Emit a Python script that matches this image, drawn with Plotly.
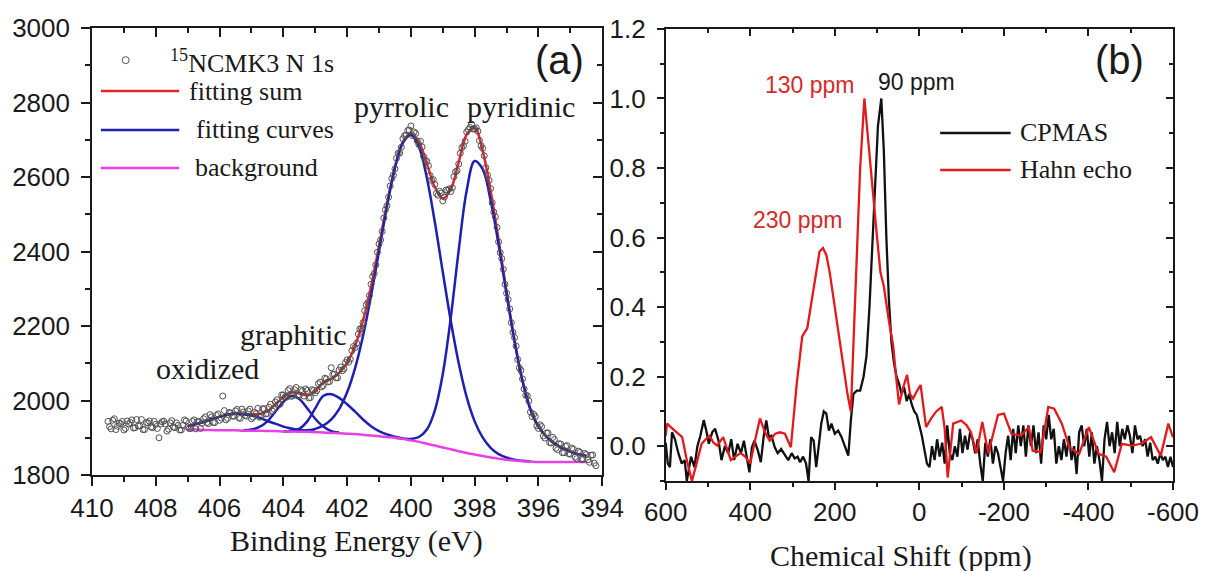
import plotly.graph_objects as go

# ---------------- Panel (a): XPS N 1s ----------------
E_data = [409.5, 409.4, 409.3, 409.2, 409.1, 409.0, 408.9, 408.8, 408.7, 408.6,
          408.5, 408.4, 408.3, 408.2, 408.1, 408.0, 407.9, 407.8, 407.7, 407.6,
          407.5, 407.4, 407.3, 407.2, 407.1, 407.0, 406.9, 406.8, 406.7, 406.6,
          406.5, 406.4, 406.3, 406.2, 406.1, 406.0, 405.9, 405.8, 405.7, 405.6,
          405.5, 405.4, 405.3, 405.2, 405.1, 405.0, 404.9, 404.8, 404.7, 404.6,
          404.5, 404.4, 404.3, 404.2, 404.1, 404.0, 403.9, 403.8, 403.7, 403.6,
          403.5, 403.4, 403.3, 403.2, 403.1, 403.0, 402.9, 402.8, 402.7, 402.6,
          402.5, 402.4, 402.3, 402.2, 402.1, 402.0, 401.9, 401.8, 401.7, 401.6,
          401.5, 401.4, 401.3, 401.2, 401.1, 401.0, 400.9, 400.8, 400.7, 400.6,
          400.5, 400.4, 400.3, 400.2, 400.1, 400.0, 399.9, 399.8, 399.7, 399.6,
          399.5, 399.4, 399.3, 399.2, 399.1, 399.0, 398.9, 398.8, 398.7, 398.6,
          398.5, 398.4, 398.3, 398.2, 398.1, 398.0, 397.9, 397.8, 397.7, 397.6,
          397.5, 397.4, 397.3, 397.2, 397.1, 397.0, 396.9, 396.8, 396.7, 396.6,
          396.5, 396.4, 396.3, 396.2, 396.1, 396.0, 395.9, 395.8, 395.7, 395.6,
          395.5, 395.4, 395.3, 395.2, 395.1, 395.0, 394.9, 394.8, 394.7, 394.6,
          394.5, 394.4, 394.3, 394.2]
I_data = [1944, 1924, 1951, 1931, 1938, 1921, 1945, 1941, 1926, 1949,
          1932, 1922, 1941, 1945, 1927, 1936, 1900, 1943, 1937, 1923,
          1946, 1927, 1933, 1921, 1948, 1929, 1925, 1948, 1943, 1925,
          1951, 1941, 1962, 1941, 1960, 1947, 2012, 1948, 1968, 1958,
          1972, 1954, 1977, 1960, 1972, 1951, 1968, 1979, 1957, 1978,
          1965, 1990, 1977, 2002, 1990, 2015, 2009, 2032, 2013, 2035,
          2014, 2026, 2031, 2007, 2029, 2021, 2045, 2037, 2060, 2050,
          2088, 2071, 2061, 2090, 2085, 2109, 2111, 2145, 2154, 2192,
          2209, 2257, 2282, 2333, 2364, 2420, 2454, 2512, 2546, 2596,
          2622, 2664, 2680, 2711, 2725, 2737, 2721, 2697, 2696, 2655,
          2642, 2604, 2593, 2556, 2562, 2536, 2565, 2568, 2571, 2614,
          2635, 2679, 2696, 2727, 2742, 2729, 2723, 2684, 2657, 2605,
          2569, 2506, 2465, 2397, 2352, 2288, 2246, 2183, 2146, 2088,
          2058, 2014, 1999, 1957, 1957, 1925, 1930, 1899, 1913, 1886,
          1895, 1868, 1883, 1860, 1879, 1856, 1869, 1844, 1861, 1842,
          1855, 1834, 1854, 1825]
E_data2 = [409.45, 409.35, 409.25, 409.15, 409.05, 408.95, 408.85, 408.75, 408.65, 408.55,
           408.45, 408.35, 408.25, 408.15, 408.05, 407.95, 407.85, 407.75, 407.65, 407.55,
           407.45, 407.35, 407.25, 407.15, 407.05, 406.95, 406.85, 406.75, 406.65, 406.55,
           406.45, 406.35, 406.25, 406.15, 406.05, 405.95, 405.85, 405.75, 405.65, 405.55,
           405.45, 405.35, 405.25, 405.15, 405.05, 404.95, 404.85, 404.75, 404.65, 404.55,
           404.45, 404.35, 404.25, 404.15, 404.05, 403.95, 403.85, 403.75, 403.65, 403.55,
           403.45, 403.35, 403.25, 403.15, 403.05, 402.95, 402.85, 402.75, 402.65, 402.55,
           402.45, 402.35, 402.25, 402.15, 402.05, 401.95, 401.85, 401.75, 401.65, 401.55,
           401.45, 401.35, 401.25, 401.15, 401.05, 400.95, 400.85, 400.75, 400.65, 400.55,
           400.45, 400.35, 400.25, 400.15, 400.05, 399.95, 399.85, 399.75, 399.65, 399.55,
           399.45, 399.35, 399.25, 399.15, 399.05, 398.95, 398.85, 398.75, 398.65, 398.55,
           398.45, 398.35, 398.25, 398.15, 398.05, 397.95, 397.85, 397.75, 397.65, 397.55,
           397.45, 397.35, 397.25, 397.15, 397.05, 396.95, 396.85, 396.75, 396.65, 396.55,
           396.45, 396.35, 396.25, 396.15, 396.05, 395.95, 395.85, 395.75, 395.65, 395.55,
           395.45, 395.35, 395.25, 395.15, 395.05, 394.95, 394.85, 394.75, 394.65, 394.55,
           394.45, 394.35, 394.25]
I_data2 = [1930, 1947, 1922, 1939, 1944, 1925, 1937, 1948, 1927, 1932,
           1949, 1922, 1940, 1929, 1944, 1925, 1937, 1945, 1918, 1940,
           1929, 1940, 1921, 1933, 1945, 1925, 1944, 1924, 1944, 1939,
           1956, 1938, 1956, 1941, 1964, 1953, 1973, 1952, 1966, 1958,
           1976, 1952, 1969, 1958, 1977, 1955, 1965, 1955, 1978, 1964,
           1982, 1972, 1996, 1990, 2015, 2009, 2027, 2011, 2029, 2014,
           2029, 2012, 2027, 2008, 2027, 2027, 2049, 2040, 2058, 2051,
           2070, 2061, 2082, 2080, 2102, 2103, 2134, 2142, 2178, 2193,
           2241, 2263, 2312, 2341, 2398, 2431, 2490, 2523, 2576, 2605,
           2650, 2664, 2703, 2712, 2726, 2711, 2717, 2687, 2681, 2645,
           2630, 2591, 2580, 2551, 2557, 2546, 2564, 2561, 2601, 2617,
           2664, 2684, 2721, 2733, 2729, 2732, 2698, 2677, 2625, 2591,
           2531, 2493, 2426, 2381, 2312, 2271, 2209, 2169, 2110, 2081,
           2031, 2013, 1969, 1963, 1932, 1935, 1905, 1913, 1887, 1901,
           1872, 1884, 1860, 1877, 1857, 1872, 1848, 1864, 1842, 1858,
           1841, 1853, 1832]

E_fit = [407.0, 406.75, 406.5, 406.25, 406.0, 405.75, 405.5, 405.25, 405.0, 404.75,
         404.5, 404.25, 404.0, 403.75, 403.5, 403.25, 403.0, 402.75, 402.5, 402.25,
         402.0, 401.75, 401.5, 401.25, 401.0, 400.75, 400.5, 400.25, 400.0, 399.75,
         399.5, 399.25, 399.0, 398.75, 398.5, 398.25, 398.0, 397.75, 397.5, 397.25,
         397.0, 396.75, 396.5, 396.25, 396.0, 395.75, 395.5, 395.25, 395.0, 394.75,
         394.5]
fit_sum = [1931, 1937, 1942, 1950, 1956, 1962, 1965, 1964, 1963, 1964,
           1971, 1990, 2009, 2023, 2019, 2014, 2025, 2048, 2058, 2074,
           2101, 2147, 2215, 2306, 2415, 2528, 2627, 2694, 2717, 2694,
           2636, 2573, 2542, 2567, 2640, 2714, 2732, 2671, 2563, 2431,
           2292, 2161, 2053, 1976, 1930, 1903, 1885, 1872, 1863, 1856,
           1851]
background = [1922, 1922, 1921, 1921, 1920, 1920, 1920, 1919, 1919, 1919,
              1918, 1918, 1917, 1917, 1916, 1916, 1915, 1914, 1913, 1912,
              1911, 1910, 1908, 1906, 1904, 1902, 1900, 1897, 1893, 1889,
              1884, 1879, 1874, 1869, 1864, 1859, 1855, 1851, 1847, 1844,
              1841, 1839, 1837, 1836, 1835, 1835, 1835, 1835, 1835, 1835,
              1835]

E_oxidized = [407.0, 406.75, 406.5, 406.25, 406.0, 405.75, 405.5, 405.25, 405.0,
              404.75, 404.5, 404.25, 404.0, 403.75, 403.5, 403.25, 403.0]
I_oxidized = [1931, 1937, 1942, 1950, 1956, 1962, 1965, 1963, 1960,
              1954, 1945, 1938, 1930, 1925, 1921, 1919, 1916]
E_graph1 = [405.25, 405.0, 404.75, 404.5, 404.25, 404.0, 403.75, 403.5, 403.25,
            403.0, 402.75, 402.5, 402.25]
I_graph1 = [1920, 1922, 1929, 1944, 1970, 1996, 2012, 2004, 1979,
            1951, 1930, 1918, 1914]
E_graph2 = [404.0, 403.75, 403.5, 403.25, 403.0, 402.75, 402.5, 402.25, 402.0,
            401.75, 401.5, 401.25, 401.0, 400.75, 400.5, 400.25]
I_graph2 = [1917, 1919, 1924, 1944, 1979, 2012, 2017, 2007, 1990,
            1970, 1949, 1931, 1918, 1909, 1903, 1898]
E_pyrrolic = [404.0, 403.75, 403.5, 403.25, 403.0, 402.75, 402.5, 402.25, 402.0,
              401.75, 401.5, 401.25, 401.0, 400.75, 400.5, 400.25, 400.0, 399.75,
              399.5, 399.25, 399.0, 398.75, 398.5, 398.25, 398.0, 397.75, 397.5,
              397.25, 397.0, 396.75, 396.5, 396.25]
I_pyrrolic = [1917, 1918, 1918, 1920, 1924, 1933, 1949, 1977, 2022,
              2087, 2174, 2281, 2401, 2521, 2624, 2692, 2713, 2681,
              2598, 2479, 2345, 2214, 2100, 2009, 1944, 1901, 1873,
              1856, 1847, 1841, 1838, 1836]
E_pyridinic = [400.5, 400.25, 400.0, 399.75, 399.5, 399.25, 399.0, 398.75, 398.5,
               398.25, 398.0, 397.75, 397.5, 397.25, 397.0, 396.75, 396.5, 396.25,
               396.0, 395.75, 395.5, 395.25, 395.0, 394.75, 394.5]
I_pyridinic = [1900, 1898, 1897, 1902, 1922, 1973, 2071, 2222, 2404,
               2564, 2643, 2621, 2537, 2419, 2286, 2159, 2052, 1976,
               1930, 1903, 1885, 1872, 1863, 1856, 1851]

# ---------------- Panel (b): 15N NMR ----------------
ppm_cp = [600, 595, 590, 585, 578, 570, 562, 555, 550, 545, 540, 532, 525, 518, 510,
          504, 498, 490, 483, 475, 468, 460, 452, 445, 438, 430, 422, 415, 408, 402,
          396, 390, 382, 375, 368, 362, 356, 350, 342, 335, 327, 318, 310, 302, 295,
          288, 282, 275, 268, 262, 256, 250, 244, 238, 232, 226, 220, 214, 208, 200,
          192, 184, 176, 168, 162, 156, 148, 140, 132, 125, 118, 112, 105, 98, 90,
          84, 78, 72, 66, 60, 54, 48, 42, 36, 30, 24, 18, 12, 6, 0,
          -6, -12, -18, -24, -30, -36, -42, -48, -54, -60, -66, -72, -78, -84, -90,
          -96, -102, -108, -114, -120, -126, -132, -138, -144, -150, -156, -162, -168, -174, -180,
          -186, -192, -198, -204, -210, -216, -222, -228, -234, -240, -246, -252, -258, -264, -270,
          -276, -282, -288, -294, -300, -306, -312, -318, -324, -330, -336, -342, -348, -354, -360,
          -366, -372, -378, -384, -390, -396, -402, -408, -414, -420, -426, -432, -438, -444, -450,
          -456, -462, -468, -474, -480, -486, -492, -498, -504, -510, -516, -522, -528, -534, -540,
          -546, -552, -558, -564, -570, -576, -582, -588, -594, -600]
int_cp = [0.01, -0.05, -0.06, 0.04, 0.02, -0.02, -0.05, -0.04, -0.10, -0.06, -0.03, -0.06, 0.0, 0.03, 0.075,
          0.045, 0.007, 0.04, 0.05, 0.016, -0.04, 0.0, -0.02, 0.02, -0.04, 0.007, -0.02, 0.016, -0.03, -0.075,
          -0.003, 0.016, -0.012, -0.046, 0.03, 0.074, 0.026, 0.03, -0.003, -0.02, -0.008, -0.027, -0.04, -0.02, -0.035,
          -0.03, -0.046, -0.03, -0.05, -0.10, 0.026, 0.016, -0.06, 0.0, 0.065, 0.10, 0.094, 0.045, 0.065, 0.036,
          0.045, 0.026, 0.0, -0.027, 0.074, 0.15, 0.16, 0.16, 0.20, 0.26, 0.40, 0.55, 0.75, 0.92, 1.0,
          0.85, 0.60, 0.42, 0.30, 0.24, 0.20, 0.18, 0.15, 0.17, 0.13, 0.15, 0.12, 0.10, 0.09, 0.06,
          0.03, -0.01, -0.05, -0.06, 0.0, -0.04, 0.02, -0.03, 0.01, -0.05, 0.06, -0.02, -0.04, 0.0, -0.03,
          0.05, -0.02, 0.03, -0.01, 0.04, 0.02, -0.02, 0.02, -0.05, -0.10, 0.01, -0.03, 0.02, -0.05, 0.0,
          -0.02, -0.06, -0.10, -0.02, 0.03, -0.04, 0.05, -0.02, 0.06, 0.0, 0.06, -0.03, 0.06, 0.0, 0.06,
          -0.02, 0.04, -0.05, 0.06, 0.02, 0.09, 0.02, 0.05, -0.05, 0.0, -0.04, 0.02, -0.03, 0.03, -0.04,
          0.0, -0.08, 0.04, 0.06, 0.0, 0.05, -0.03, 0.04, -0.05, 0.0, -0.04, -0.10, 0.02, 0.07, 0.0,
          0.04, -0.02, 0.07, 0.0, 0.05, 0.02, 0.06, 0.03, -0.02, 0.06, 0.02, 0.03, 0.0, 0.02, -0.03,
          0.01, -0.04, -0.03, -0.05, -0.02, -0.04, -0.03, -0.06, -0.03, -0.06]

ppm_he = [600, 597, 588, 579, 570, 561, 550, 538, 527, 515, 505, 496, 487, 478, 464,
          455, 446, 435, 423, 412, 400, 388, 377, 365, 354, 341, 330, 318, 304, 290,
          277, 265, 255, 245, 236, 228, 220, 212, 200, 190, 180, 170, 162, 150, 140,
          130, 120, 110, 100, 92, 84, 72, 62, 55, 48, 38, 29, 22, 15, 5,
          -3, -16, -28, -40, -53, -60, -67, -80, -99, -112, -122, -135, -149, -163, -186,
          -200, -218, -241, -259, -268, -287, -305, -319, -337, -355, -378, -401, -424, -442, -461,
          -479, -502, -525, -548, -571, -589, -600]
int_he = [0.03, 0.065, 0.055, 0.045, 0.035, 0.026, -0.04, -0.10, -0.05, 0.007, 0.02, 0.03, 0.01, 0.002, 0.026,
          -0.01, -0.04, -0.03, -0.02, -0.03, -0.05, 0.02, 0.08, 0.04, 0.016, 0.036, 0.04, 0.036, -0.003, 0.18,
          0.316, 0.34, 0.42, 0.50, 0.56, 0.57, 0.55, 0.50, 0.40, 0.31, 0.22, 0.15, 0.10, 0.50, 0.80,
          1.0, 0.86, 0.74, 0.60, 0.50, 0.46, 0.36, 0.29, 0.20, 0.12, 0.17, 0.205, 0.15, 0.137, 0.16,
          0.176, 0.055, 0.08, 0.10, 0.113, 0.05, -0.09, 0.065, 0.074, 0.06, 0.04, -0.02, 0.07, -0.02, 0.09,
          0.094, 0.036, 0.03, 0.055, -0.013, -0.017, 0.113, 0.108, 0.065, -0.003, -0.022, 0.055, -0.022, -0.03, -0.075,
          0.007, 0.002, 0.007, 0.026, -0.027, 0.065, 0.026]

ppm_tickvals = [600, 400, 200, 0, -200, -400, -600]
ppm_ticktext = ["600", "400", "200", "0", "-200", "-400", "-600"]

# ---------------- styles ----------------
SANS = "Liberation Sans, Arial, sans-serif"
SERIF = "Liberation Serif, Times New Roman, serif"
INK = "#1a1a1a"
RED = "#e3262b"
BLUE = "#1f1fb0"
MAGENTA = "#e640e6"
RED_B = "#e31a1c"
MARK = "#505050"

fig = go.Figure()

# panel (a) traces
fig.add_trace(go.Scatter(x=E_fit, y=fit_sum, mode="lines", line=dict(color=RED, width=2.5, shape="spline"),
                         xaxis="x", yaxis="y", showlegend=False))
for ex, iy in [(E_oxidized, I_oxidized), (E_graph1, I_graph1), (E_graph2, I_graph2),
               (E_pyrrolic, I_pyrrolic), (E_pyridinic, I_pyridinic)]:
    fig.add_trace(go.Scatter(x=ex, y=iy, mode="lines", line=dict(color=BLUE, width=2.5, shape="spline"),
                             xaxis="x", yaxis="y", showlegend=False))
fig.add_trace(go.Scatter(x=E_fit, y=background, mode="lines", line=dict(color=MAGENTA, width=2.5, shape="spline"),
                         xaxis="x", yaxis="y", showlegend=False))
fig.add_trace(go.Scatter(x=E_data + E_data2, y=I_data + I_data2, mode="markers",
                         marker=dict(symbol="circle-open", size=6, color=MARK, line=dict(width=1)),
                         xaxis="x", yaxis="y", showlegend=False))

# panel (b) traces
fig.add_trace(go.Scatter(x=ppm_cp, y=int_cp, mode="lines", line=dict(color="#111111", width=2.3),
                         xaxis="x2", yaxis="y2", showlegend=False))
fig.add_trace(go.Scatter(x=ppm_he, y=int_he, mode="lines", line=dict(color=RED_B, width=2.3),
                         xaxis="x2", yaxis="y2", showlegend=False))

# empty traces that carry the mirrored (inside-tick) top/right axes
fig.add_trace(go.Scatter(x=[], y=[], xaxis="x3", yaxis="y3", showlegend=False, hoverinfo="skip"))
fig.add_trace(go.Scatter(x=[], y=[], xaxis="x4", yaxis="y4", showlegend=False, hoverinfo="skip"))

common = dict(showline=True, linecolor=INK, linewidth=1.6, showgrid=False, zeroline=False,
              tickcolor=INK, tickwidth=1.5, tickfont=dict(family=SANS, size=26, color=INK))

xa_range = [410, 394]
ya_range = [1800, 3000]
xb_range = [600, -600]
yb_range = [-0.1, 1.2]

ya_dom = [0.0132, 1.0]
yb_dom = [0.0, 0.998]

fig.update_layout(
    width=1211, height=571,
    margin=dict(l=88, r=32, t=28, b=90),
    paper_bgcolor="white", plot_bgcolor="white",
    showlegend=False,
    xaxis=dict(domain=[0, 0.472], range=xa_range, anchor="y", tickmode="linear", tick0=394, dtick=2,
               ticks="outside", ticklen=9, ticklabelstandoff=0,
               minor=dict(dtick=1, tick0=394, ticks="outside", ticklen=5, tickwidth=1.5, tickcolor=INK),
               **common),
    yaxis=dict(domain=ya_dom, range=ya_range, anchor="x", tickmode="linear", tick0=1800, dtick=200,
               ticks="outside", ticklen=9, ticklabelstandoff=6,
               minor=dict(dtick=100, tick0=1800, ticks="outside", ticklen=5, tickwidth=1.5, tickcolor=INK),
               **common),
    xaxis3=dict(overlaying="x", side="top", anchor="y", range=xa_range, tickmode="linear", tick0=394, dtick=2,
                ticks="inside", ticklen=9, showticklabels=False,
                minor=dict(dtick=1, tick0=394, ticks="inside", ticklen=5, tickwidth=1.5, tickcolor=INK),
                **common),
    yaxis3=dict(overlaying="y", side="right", anchor="x", range=ya_range, tickmode="linear", tick0=1800, dtick=200,
                ticks="inside", ticklen=9, showticklabels=False,
                minor=dict(dtick=100, tick0=1800, ticks="inside", ticklen=5, tickwidth=1.5, tickcolor=INK),
                **common),
    xaxis2=dict(domain=[0.5307, 1.0], range=xb_range, anchor="y2", tickmode="array",
                tickvals=ppm_tickvals, ticktext=ppm_ticktext,
                ticks="outside", ticklen=7, ticklabelstandoff=0,
                minor=dict(dtick=100, tick0=0, ticks="outside", ticklen=4, tickwidth=1.5, tickcolor=INK),
                **common),
    yaxis2=dict(domain=yb_dom, range=yb_range, anchor="x2", tickmode="linear", tick0=0, dtick=0.2,
                tickformat=".1f", ticks="outside", ticklen=7, ticklabelstandoff=6,
                minor=dict(dtick=0.1, tick0=0, ticks="outside", ticklen=4, tickwidth=1.5, tickcolor=INK),
                **common),
    xaxis4=dict(overlaying="x2", side="top", anchor="y2", range=xb_range, tickmode="linear", tick0=0, dtick=200,
                ticks="inside", ticklen=7, showticklabels=False,
                minor=dict(dtick=100, tick0=0, ticks="inside", ticklen=4, tickwidth=1.5, tickcolor=INK),
                **common),
    yaxis4=dict(overlaying="y2", side="right", anchor="x2", range=yb_range, tickmode="linear", tick0=0, dtick=0.2,
                ticks="inside", ticklen=7, showticklabels=False,
                minor=dict(dtick=0.1, tick0=0, ticks="inside", ticklen=4, tickwidth=1.5, tickcolor=INK),
                **common),
)

ann = []
def text(x, y, s, xref, yref, size, family=SERIF, color=INK, xanchor="center", yanchor="middle"):
    ann.append(dict(x=x, y=y, text=s, xref=xref, yref=yref, showarrow=False,
                    font=dict(family=family, size=size, color=color),
                    xanchor=xanchor, yanchor=yanchor))

# axis titles
text(0.2447, -0.132, "Binding Energy (eV)", "paper", "paper", 30)
text(0.748, -0.1656, "Chemical Shift (ppm)", "paper", "paper", 30)

# panel (a) labels
text(400.31, 2788, "pyrrolic", "x", "y", 30)
text(396.55, 2788, "pyridinic", "x", "y", 30)
text(403.69, 2176, "graphitic", "x", "y", 30)
text(406.38, 2087, "oxidized", "x", "y", 30)
text(0.917, 0.928, "(a)", "x domain", "y domain", 40, family=SANS)

# panel (a) legend
text(0.1495, 0.924, "<sup>15</sup>NCMK3 N 1s", "x domain", "y domain", 26, xanchor="left")
text(0.186, 0.859, "fitting sum", "x domain", "y domain", 26, xanchor="left")
text(0.200, 0.772, "fitting curves", "x domain", "y domain", 26, xanchor="left")
text(0.198, 0.687, "background", "x domain", "y domain", 26, xanchor="left")

# panel (b) labels
text(0.8945, 0.931, "(b)", "x2 domain", "y2 domain", 40, family=SANS)
text(0.285, 0.876, "130 ppm", "x2 domain", "y2 domain", 23, family=SANS, color="#d42a2a")
text(0.494, 0.883, "90 ppm", "x2 domain", "y2 domain", 23, family=SANS, color=INK)
text(0.260, 0.577, "230 ppm", "x2 domain", "y2 domain", 23, family=SANS, color="#d42a2a")
text(0.695, 0.770, "CPMAS", "x2 domain", "y2 domain", 26, xanchor="left")
text(0.695, 0.688, "Hahn echo", "x2 domain", "y2 domain", 26, xanchor="left")

fig.update_layout(annotations=ann)

shapes = []
def hline(x0, x1, y, xref, yref, color):
    shapes.append(dict(type="line", x0=x0, x1=x1, y0=y, y1=y, xref=xref, yref=yref,
                       line=dict(color=color, width=2.5)))

hline(0.0175, 0.171, 0.859, "x domain", "y domain", RED)
hline(0.0175, 0.171, 0.772, "x domain", "y domain", BLUE)
hline(0.0175, 0.171, 0.687, "x domain", "y domain", MAGENTA)
shapes.append(dict(type="circle", xref="x domain", yref="y domain", xsizemode="pixel", ysizemode="pixel",
                   xanchor=0.066, yanchor=0.928, x0=-3.5, x1=3.5, y0=-3.5, y1=3.5,
                   line=dict(color=MARK, width=1)))
hline(0.541, 0.680, 0.770, "x2 domain", "y2 domain", "#111111")
hline(0.541, 0.680, 0.688, "x2 domain", "y2 domain", RED_B)

fig.update_layout(shapes=shapes)

fig.write_html("out.html")
